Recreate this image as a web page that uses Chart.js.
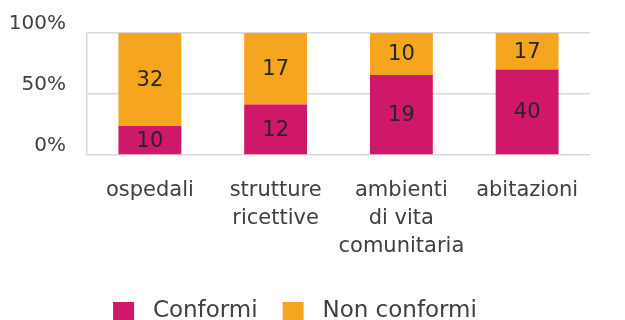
<!DOCTYPE html>
<html>
<head>
<meta charset="utf-8">
<script src="https://cdn.jsdelivr.net/npm/chart.js@4.4.1/dist/chart.umd.min.js"></script>
<style>
  html, body { margin: 0; padding: 0; background: #fff; }
  #wrap { width: 625px; height: 320px; }
</style>
</head>
<body>
<div id="wrap"><canvas id="chart1" width="625" height="320"></canvas></div>
<script>
// categories (multi-line labels)
const categories = [
    ['ospedali'],
    ['strutture', 'ricettive'],
    ['ambienti', 'di vita', 'comunitaria'],
    ['abitazioni']
];
// counts per category
const conformi = [10, 12, 19, 40];
const nonConformi = [32, 17, 10, 17];
const yTicks = [0, 50, 100];

// share of each category in percent (bars are 100% stacked)
const totals = conformi.map((v, i) => v + nonConformi[i]);
const pct = arr => arr.map((v, i) => v / totals[i] * 100);

const FONT = "'DejaVu Sans', sans-serif";

// writes the raw count in the middle of each bar segment
const countLabels = {
    id: 'countLabels',
    afterDatasetsDraw(chart) {
        const ctx = chart.ctx;
        ctx.save();
        ctx.font = '21px ' + FONT;
        ctx.fillStyle = '#262626';
        ctx.textAlign = 'center';
        ctx.textBaseline = 'middle';
        chart.data.datasets.forEach((ds, di) => {
            const meta = chart.getDatasetMeta(di);
            meta.data.forEach((bar, i) => {
                const yMid = (bar.y + bar.base) / 2;
                ctx.fillText(String(ds.counts[i]), bar.x, yMid + 1);
            });
        });
        ctx.restore();
    }
};

const ctx1 = document.getElementById('chart1').getContext('2d');
const chart1 = new Chart(ctx1, {
    type: 'bar',
    data: {
        labels: categories,
        datasets: [{
            label: ' Conformi',
            data: pct(conformi),
            counts: conformi,
            backgroundColor: '#D0186B'
        }, {
            label: ' Non conformi',
            data: pct(nonConformi),
            counts: nonConformi,
            backgroundColor: '#F5A61E'
        }]
    },
    options: {
        responsive: false,
        animation: false,
        events: [],
        layout: {
            autoPadding: false,
            padding: { top: 27, right: 35, bottom: -13, left: 0 }
        },
        datasets: {
            bar: { barPercentage: 0.5, categoryPercentage: 1 }
        },
        scales: {
            x: {
                stacked: true,
                grid: { display: false },
                border: { display: false },
                ticks: {
                    color: '#404040',
                    font: { family: FONT, size: 21, lineHeight: 1.33 },
                    padding: 14,
                    maxRotation: 0,
                    autoSkip: false
                },
                afterFit: scale => { scale.height = 120; }
            },
            y: {
                stacked: true,
                min: 0,
                max: 100,
                afterBuildTicks: scale => {
                    scale.ticks = yTicks.map(v => ({ value: v }));
                },
                grid: { color: '#D9D9D9', lineWidth: 1.5, drawTicks: false },
                border: { display: true, color: '#D9D9D9', width: 1.5 },
                ticks: {
                    color: '#404040',
                    font: { family: FONT, size: 20 },
                    padding: 21,
                    labelOffset: -9,
                    callback: v => v + '%'
                },
                afterFit: scale => { scale.width = 87; }
            }
        },
        plugins: {
            legend: {
                position: 'bottom',
                labels: {
                    color: '#404040',
                    font: { family: FONT, size: 23 },
                    boxWidth: 21,
                    boxHeight: 19,
                    padding: 25
                }
            },
            tooltip: { enabled: false }
        }
    },
    plugins: [countLabels]
});
</script>
</body>
</html>
